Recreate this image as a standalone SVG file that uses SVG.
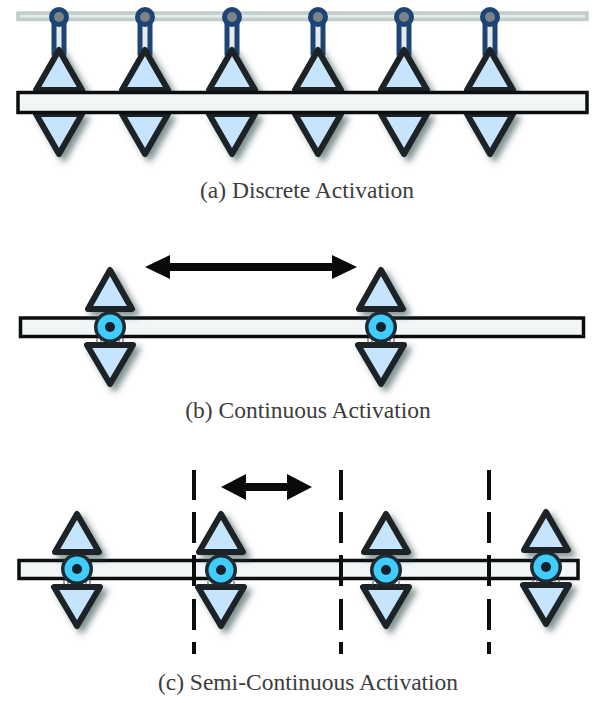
<svg xmlns="http://www.w3.org/2000/svg" xmlns:xlink="http://www.w3.org/1999/xlink" width="597" height="703" viewBox="0 0 597 703">
<style>
.tri{fill:#c6e4fb;stroke:#1c2227;stroke-width:6;stroke-linejoin:round;filter:url(#sh)}
.bar{fill:#f2f6f7;stroke:#0b0d0e;stroke-width:3.500;stroke-linejoin:miter}
.cap{font-family:"Liberation Serif",serif;font-size:23.500px;fill:#3c3c3c;text-anchor:middle}
.dash{stroke:#0b0d0e;stroke-width:4;fill:none;stroke-linecap:butt}
.arr{fill:#0a0a0a}
.slot{stroke:#3a4246;stroke-width:1;fill:none}
</style>
<defs>
<filter id="sh" x="-30%" y="-30%" width="170%" height="170%"><feDropShadow dx="4.500" dy="4.500" stdDeviation="3" flood-color="#2c4a4a" flood-opacity="0.6"/></filter>
<g id="pin">
<path class="slot" d="M-13 11V16M-9 11V16M9 11V16M13 11V16"/>
<circle r="16" fill="#1c2a33"/><circle r="12.500" fill="#41cdfb"/><circle r="5" fill="#14212a"/>
</g>
<g id="hang">
<rect x="-5" y="0" width="10" height="36" fill="#e6ebea" stroke="#1d4474" stroke-width="5"/>
<circle cx="0" cy="0" r="7.500" fill="#7b8587" stroke="#1d4474" stroke-width="5"/>
</g>
</defs>
<rect width="597" height="703" fill="#fff"/>
<g id="rail-a"><rect x="18" y="13" width="569" height="6.500" fill="#e4ebe9" stroke="#c0cdc9" stroke-width="3.500"/></g>
<g id="discrete-hangers">
<use xlink:href="#hang" x="59" y="17"/><use xlink:href="#hang" x="145" y="17"/><use xlink:href="#hang" x="232" y="17"/><use xlink:href="#hang" x="318" y="17"/><use xlink:href="#hang" x="404" y="17"/><use xlink:href="#hang" x="490" y="17"/>
</g>
<g id="discrete-triangles">
<path class="tri" d="M59 50 L82 90 L36 90 Z"/><path class="tri" d="M145 50 L168 90 L122 90 Z"/><path class="tri" d="M232 50 L255 90 L209 90 Z"/><path class="tri" d="M318 50 L341 90 L295 90 Z"/><path class="tri" d="M404 50 L427 90 L381 90 Z"/><path class="tri" d="M490 50 L513 90 L467 90 Z"/>
<path class="tri" d="M36 114 L82 114 L59 154 Z"/><path class="tri" d="M122 114 L168 114 L145 154 Z"/><path class="tri" d="M209 114 L255 114 L232 154 Z"/><path class="tri" d="M295 114 L341 114 L318 154 Z"/><path class="tri" d="M381 114 L427 114 L404 154 Z"/><path class="tri" d="M467 114 L513 114 L490 154 Z"/>
</g>
<g id="bar-a"><rect class="bar" x="18" y="92.500" width="569" height="20"/></g>
<g id="bar-b"><rect class="bar" x="20.500" y="318" width="563" height="18.500"/></g>
<g id="node-b1">
<path class="tri" d="M110 270 L132 309 L88 309 Z"/><path class="tri" d="M87 345 L133 345 L110 384 Z"/>
<use xlink:href="#pin" x="110" y="327"/>
</g>
<g id="node-b2">
<path class="tri" d="M381 270 L403 309 L359 309 Z"/><path class="tri" d="M358 345 L404 345 L381 384 Z"/>
<use xlink:href="#pin" x="381" y="327"/>
</g>
<g id="bar-c"><rect class="bar" x="19" y="560.500" width="559" height="18"/></g>
<g id="node-c1">
<path class="tri" d="M77 514 L99 552 L55 552 Z"/><path class="tri" d="M54 587 L100 587 L77 626 Z"/>
<use xlink:href="#pin" x="77" y="569"/>
</g>
<g id="node-c2">
<path class="tri" d="M221 514 L243 552 L199 552 Z"/><path class="tri" d="M198 587 L244 587 L221 626 Z"/>
<use xlink:href="#pin" x="221" y="570"/>
</g>
<g id="node-c3">
<path class="tri" d="M386 514 L408 552 L364 552 Z"/><path class="tri" d="M363 587 L409 587 L386 626 Z"/>
<use xlink:href="#pin" x="386" y="570"/>
</g>
<g id="node-c4">
<path class="tri" d="M546 512 L568 550 L524 550 Z"/><path class="tri" d="M523 585 L569 585 L546 624 Z"/>
<use xlink:href="#pin" x="546" y="567"/>
</g>
<g id="connectors">
<path class="arr" d="M145 267 L170 255 L170 263 L332 263 L332 255 L357 267 L332 279 L332 271 L170 271 L170 279 Z"/>
<path class="arr" d="M221 487 L246 474 L246 483 L287 483 L287 474 L312 487 L287 500 L287 491 L246 491 L246 500 Z"/>
<path class="dash" d="M194 470V500M194 512V543M194 555V586M194 599V630M194 642V654"/>
<path class="dash" d="M341 470V500M341 512V543M341 555V586M341 599V630M341 642V654"/>
<path class="dash" d="M489 470V500M489 512V543M489 555V586M489 599V630M489 642V654"/>
</g>
<g id="captions">
<text class="cap" x="307" y="198">(a) Discrete Activation</text>
<text class="cap" x="308" y="418">(b) Continuous Activation</text>
<text class="cap" x="308" y="690">(c) Semi-Continuous Activation</text>
</g>
</svg>
